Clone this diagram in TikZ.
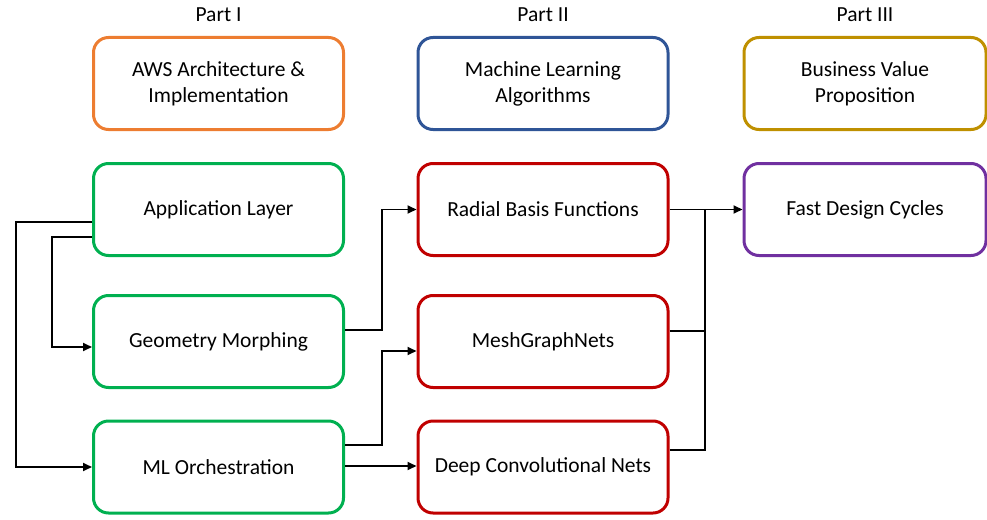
\documentclass[tikz,border=0pt]{standalone}
\usepackage{fontspec}
\setmainfont{Carlito}
\usetikzlibrary{arrows.meta}
\definecolor{cOrange}{HTML}{ED7D31}
\definecolor{cBlue}{HTML}{2F5597}
\definecolor{cGold}{HTML}{BF9000}
\definecolor{cGreen}{HTML}{00B050}
\definecolor{cRed}{HTML}{C00000}
\definecolor{cPurple}{HTML}{7030A0}
\tikzset{
  box/.style={draw, line width=3pt, rounded corners=15pt, minimum width=250pt,
    minimum height=92pt, align=center, font=\fontsize{21.5}{26}\selectfont, inner sep=0pt},
  hdr/.style={font=\fontsize{21.5}{26}\selectfont},
  conn/.style={draw=black, line width=1.8pt},
  arr/.style={conn, -{Triangle[length=9pt,width=8pt]}},
}
\begin{document}
\begin{tikzpicture}[x=1pt,y=-1pt]
\useasboundingbox (0,0) rectangle (987,519);
% column headers
\node[hdr] (h1) at (218.5,15) {Part I};
\node[hdr] (h2) at (543,15) {Part II};
\node[hdr] (h3) at (865,15) {Part III};
% top row
\node[box, draw=cOrange] (aws) at (218.5,83.5) {AWS Architecture \&\\Implementation};
\node[box, draw=cBlue] (mla) at (543,83.5) {Machine Learning\\Algorithms};
\node[box, draw=cGold, minimum width=242pt] (bvp) at (865,83.5) {Business Value\\Proposition};
% Part I
\node[box, draw=cGreen] (app) at (218.5,209.5) {Application Layer};
\node[box, draw=cGreen] (geo) at (218.5,341.5) {Geometry Morphing};
\node[box, draw=cGreen] (mlo) at (218.5,467) {ML Orchestration};
% Part II
\node[box, draw=cRed] (rbf) at (543,209.5) {Radial Basis Functions};
\node[box, draw=cRed] (mgn) at (543,341.5) {MeshGraphNets};
\node[box, draw=cRed] (dcn) at (543,467) {Deep Convolutional Nets};
% Part III
\node[box, draw=cPurple, minimum width=242pt] (fdc) at (865,209.5) {Fast Design Cycles};
% Part I internal links
\draw[arr] ([yshift=-12.5pt]app.west) -- ++(-76,0) |- (mlo.west);
\draw[arr] ([yshift=-27.5pt]app.west) -- ++(-40,0) |- ([yshift=-5.5pt]geo.west);
% Part I into Part II
\draw[arr] ([yshift=11.5pt]geo.east) -- ++(37,0) |- (rbf.west);
\draw[arr] ([yshift=22pt]mlo.east) -- ++(37,0) |- ([yshift=-9.5pt]mgn.west);
\draw[arr] ([yshift=1pt]mlo.east) -- ([yshift=1pt]dcn.west);
% Part II into Part III
\coordinate (jn) at (705,209.5);
\draw[arr] (rbf.east) -- (fdc.west);
\draw[conn] ([yshift=10.5pt]mgn.east) -| (jn);
\draw[conn] ([yshift=17pt]dcn.east) -| (jn);
\end{tikzpicture}
\end{document}
